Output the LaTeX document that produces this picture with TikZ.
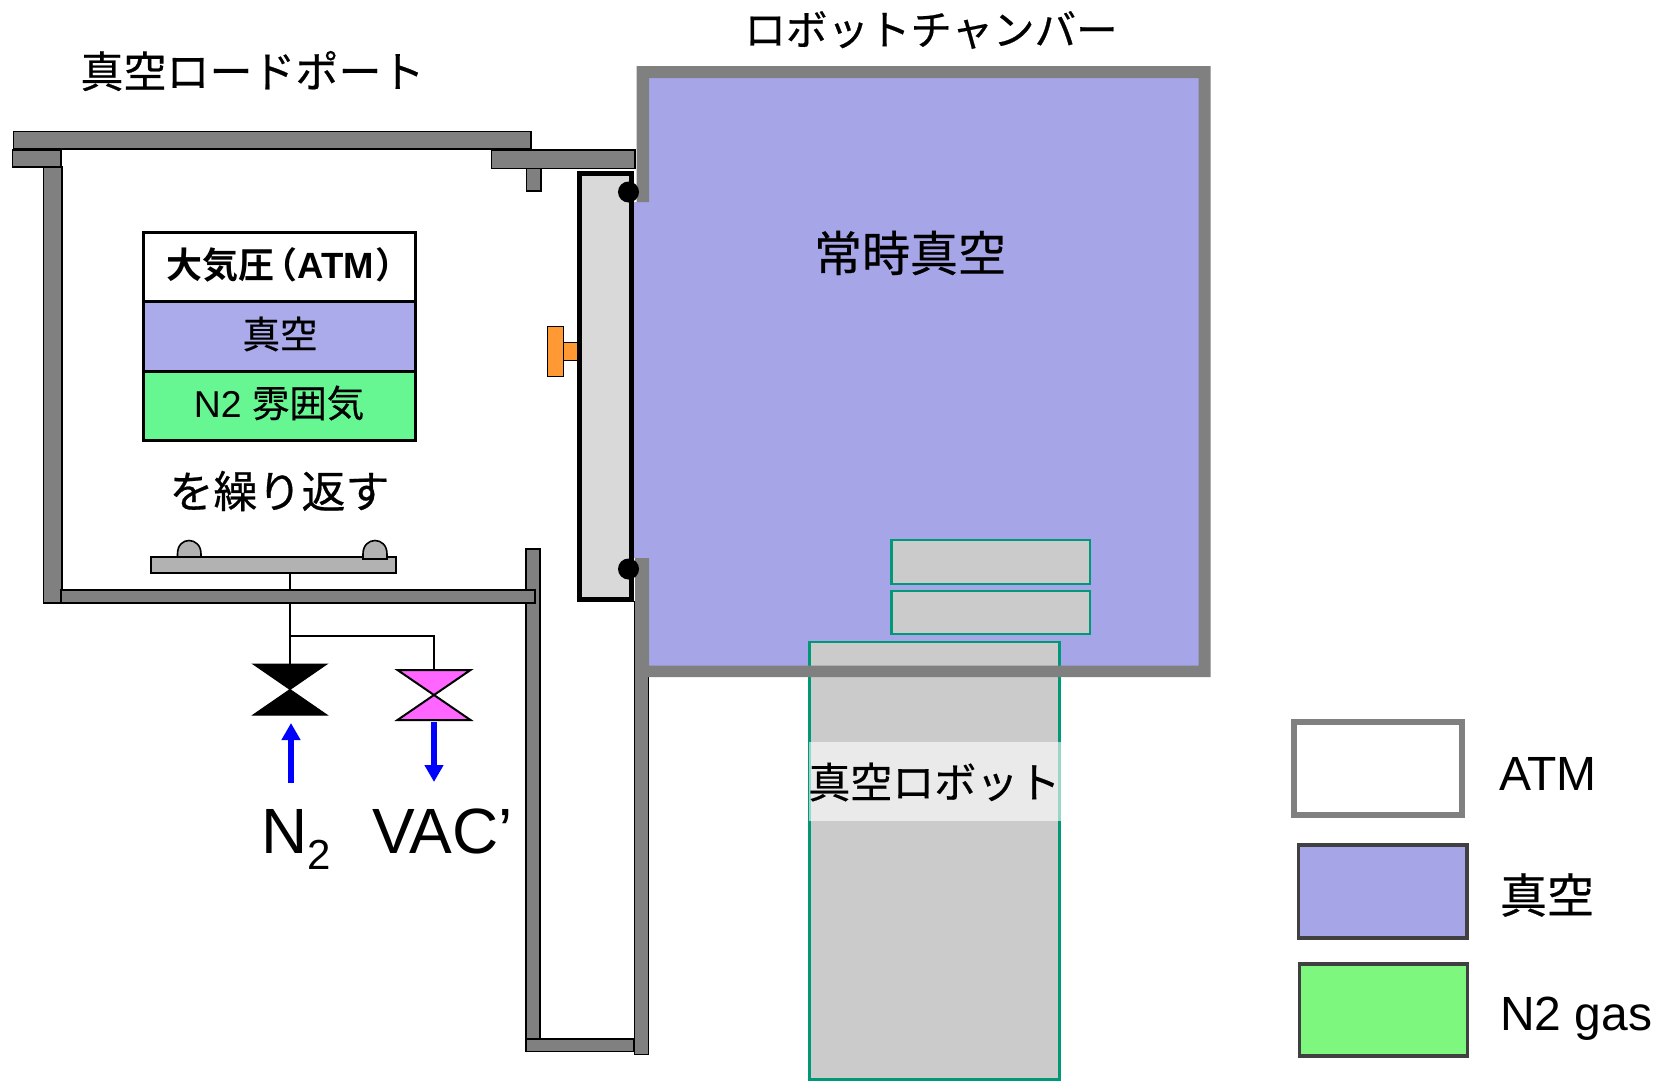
\documentclass[tikz,border=0pt]{standalone}
\usepackage{fontspec}
\usetikzlibrary{arrows.meta}
\setmainfont{Liberation Sans}
\newfontfamily\cjk[FakeBold=0.5]{Noto Sans CJK JP}
\newfontfamily\cjkb{Noto Sans CJK JP Bold}
\definecolor{wallgray}{HTML}{808080}
\definecolor{vacblue}{HTML}{A5A5E8}
\definecolor{tabblue}{HTML}{ABABEB}
\definecolor{tabgreen}{HTML}{66F793}
\definecolor{leggreen}{HTML}{7DF77D}
\definecolor{edgegreen}{HTML}{009977}
\definecolor{waferg}{HTML}{CBCBCB}
\definecolor{doorg}{HTML}{D9D9D9}
\definecolor{plateg}{HTML}{B2B2B2}
\definecolor{orangeb}{HTML}{FF9933}
\definecolor{pinkv}{HTML}{FF66FF}
\definecolor{legdark}{HTML}{404040}
\newcommand{\fsz}[1]{\fontsize{#1}{#1}\selectfont}
\tikzset{
  wall/.style={fill=wallgray,draw=black,line width=1.6pt},
  greenbox/.style={fill=waferg,draw=edgegreen,line width=2.6pt},
  tabcell/.style={draw=black,line width=3pt},
  pipe/.style={draw=black,line width=2pt},
  flow/.style={draw=blue,line width=6pt,-{Triangle[width=18pt,length=17pt]}},
  txt/.style={inner sep=0pt,outer sep=0pt,text=black},
}
\begin{document}
\begin{tikzpicture}[x=1pt,y=-1pt]
\useasboundingbox (0,0) rectangle (1661,1081);
% chamber interior
\fill[vacblue] (640,72) rectangle (1204,671);
\fill[vacblue] (634,202) rectangle (640,558);
% wafers and robot
\draw[greenbox] (891.5,540) rectangle (1090,584);
\draw[greenbox] (891.5,591) rectangle (1090,634);
\draw[greenbox] (809.5,642) rectangle (1059.5,1079.5);
% pipes
\node[draw=black,line width=2pt,fill=plateg,minimum width=245pt,minimum height=16pt,inner sep=0pt,outer sep=0pt,anchor=north west] (plate) at (151,557) {};
\coordinate (v1top) at (290,664);
\coordinate (tee) at (290,636);
\coordinate (v2top) at (434,670);
\draw[pipe] (plate.south -| tee) -- (v1top);
\draw[pipe] (tee) -| (v2top);
% door
\draw[fill=doorg,draw=black,line width=5pt] (579.5,173) rectangle (631.5,599.5);
% walls of the load port
\draw[wall] (526,549) rectangle (540,1040);
\draw[wall] (43.5,167) rectangle (62,603);
\draw[wall] (61,590) rectangle (535,603);
\draw[wall] (13.5,131.5) rectangle (531,149);
\draw[wall] (12.5,150) rectangle (61,167);
\draw[wall] (491.5,150) rectangle (635,168.5);
\draw[wall] (526.5,168.5) rectangle (541,191);
\draw[wall] (526,1039) rectangle (634,1051.5);
\draw[wall] (634.5,602) rectangle (648.5,1054.5);
% chamber wall
\fill[wallgray] (636.5,66) -| (1210.5,677) -| (635.2,558) -| (649,665.5) -| (1198.5,78) -| (649,202) -| (636.5,66) -- cycle;
% door handle
\draw[fill=orangeb,draw=black,line width=1pt] (562,342.5) rectangle (577,360);
\draw[fill=orangeb,draw=black,line width=1pt] (547.5,326.5) rectangle (563.5,376.5);
% seals
\fill[black] (628.5,192) circle (10.5);
\fill[black] (628.5,569) circle (10.5);
% clamps on plate
\draw[fill=plateg,draw=black,line width=1.6pt] (177.5,557) -- (177.5,554) .. controls (177.5,545) and (183,540.5) .. (189,540.5) .. controls (195,540.5) and (201,545) .. (201,554) -- (201,557) -- cycle;
\draw[fill=plateg,draw=black,line width=1.6pt] (363,559) -- (363,554) .. controls (363,545) and (369,540.5) .. (375,540.5) .. controls (381,540.5) and (387,545) .. (387,554) -- (387,559) -- cycle;
% cycle table
\draw[tabcell,fill=white] (143.5,232) rectangle (415.5,301);
\draw[tabcell,fill=tabblue] (143.5,301) rectangle (415.5,371);
\draw[tabcell,fill=tabgreen] (143.5,371) rectangle (415.5,440.5);
\node[txt,anchor=west] (tatm) at (166.5,265) {\fsz{36}\cjkb 大気圧\kern-0.35em（{\rmfamily\bfseries\fsz{36.5}ATM}\kern1pt）};
\node[txt] (tvac) at (280,334) {\fsz{37.5}\cjk 真空};
\node[txt] (tn2) at (279,403) {\fsz{37.4}N2 {\cjk 雰囲気}};
\node[txt] (trep) at (279.5,491) {\fsz{44}\cjk を繰り返す};
% valves
\filldraw[draw=black,line width=1pt,fill=black] (253,664) -- (327,664) -- (253,715) -- (327,715) -- cycle;
\filldraw[draw=black,line width=2pt,fill=pinkv] (397.5,670) -- (470.5,670) -- (397.5,720) -- (470.5,720) -- cycle;
% flows
\coordinate (n2start) at (291,783);
\coordinate (n2end) at (291,723);
\coordinate (vacstart) at (434,722);
\coordinate (vacend) at (434,782);
\draw[flow] (n2start) -- (n2end);
\draw[flow] (vacstart) -- (vacend);
\node[txt,anchor=base west] (tnn) at (261,853) {\fsz{64}N\raisebox{-16pt}{\fsz{42}2}};
\node[txt,anchor=base west] (tvc) at (372,853) {\fsz{64}VAC’};
% titles
\node[txt] (tport) at (252.5,71) {\fsz{43}\cjk 真空ロードポート};
\node[txt] (trob) at (931,30) {\fsz{41.5}\cjk ロボットチャンバー};
\node[txt] (tcham) at (910,253) {\fsz{48}\cjk 常時真空};
% robot label band
\fill[fill=white,fill opacity=0.6] (808.5,742) rectangle (1061,820.5);
\node[txt] (trbt) at (934.3,782) {\fsz{42}\cjk 真空ロボット};
% legend
\draw[draw=wallgray,line width=6pt,fill=white] (1294,722) rectangle (1462,815);
\draw[draw=legdark,line width=3.7pt,fill=vacblue] (1298.5,845) rectangle (1467,938);
\draw[draw=legdark,line width=3.7pt,fill=leggreen] (1299.5,964) rectangle (1467.5,1056);
\node[txt,anchor=base west] (latm) at (1499,790) {\fsz{48}ATM};
\node[txt] (lvac) at (1547,895) {\fsz{47}\cjk 真空};
\node[txt,anchor=base west] (ln2) at (1500,1030) {\fsz{48}N2 gas};
\end{tikzpicture}
\end{document}
